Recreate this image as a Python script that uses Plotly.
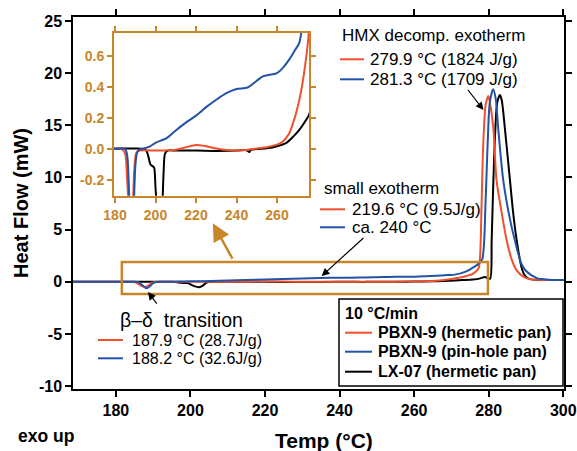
import plotly.graph_objects as go

# ---- DSC traces: temperature (°C) and heat flow (mW) ----
pbxn9_hermetic_T = [168.5, 180, 183.5, 185, 186, 187, 187.9, 188.8, 189.6, 190.5, 192, 200, 205, 210,
                    215, 220, 225, 230, 235, 240, 245, 250, 255, 260, 263, 266, 268, 270, 272, 274,
                    275.5, 276.5, 277.3, 277.7, 278.0, 278.3, 278.7, 279.2, 279.9, 280.5, 281.3,
                    282.1, 283.5, 284.8, 286.2, 287.5, 289.3, 291, 294, 300.2]
pbxn9_hermetic_Q = [0, 0, 0, -0.03, -0.2, -0.42, -0.5, -0.35, -0.12, -0.025, -0.01, -0.01, -0.009,
                    -0.005, 0.012, 0.026, 0.018, 0.003, -0.007, -0.009, -0.006, 0.004, 0.012, 0.028,
                    0.05, 0.1, 0.17, 0.26, 0.38, 0.55, 0.72, 0.95, 1.3, 2.5, 6, 10.5, 14.5, 17,
                    17.8, 16.8, 14.5, 9.75, 6.6, 4.0, 2.1, 1.1, 0.5, 0.25, 0.18, 0.17]

pbxn9_pinhole_T = [168.5, 180, 185, 186, 187, 188.2, 189.2, 190.1, 191, 192.5, 194, 197, 200, 205.5,
                   210, 215, 220, 225, 230, 235, 240, 245.5, 250, 253, 257, 260, 263, 266, 269, 271,
                   274, 276, 277.5, 278.3, 278.8, 279.1, 279.4, 279.8, 280.3, 281.2, 281.9, 282.6,
                   283.9, 285.7, 287, 288.8, 290.1, 292.9, 296, 300.2]
pbxn9_pinhole_Q = [0, 0, 0, -0.04, -0.3, -0.63, -0.4, -0.1, -0.02, 0.0, 0.003, 0.015, 0.04, 0.07,
                   0.12, 0.17, 0.215, 0.27, 0.318, 0.36, 0.387, 0.397, 0.44, 0.468, 0.48, 0.49,
                   0.525, 0.576, 0.64, 0.684, 1.0, 1.4, 1.8, 2.2, 4, 7, 10, 14, 17.2, 18.45, 17.5,
                   14.5, 9.75, 6, 4, 1.7, 1.0, 0.35, 0.2, 0.18]

lx07_T = [168.5, 180, 190, 194, 195.5, 196.5, 197.5, 198.5, 199.3, 200.0, 201.0, 202.3, 203.3,
          204.0, 204.7, 206, 210, 220, 230, 240, 245, 246.3, 247, 250, 255, 260, 264.6, 268, 271,
          273, 275.8, 277.5, 279, 279.8, 280.4, 280.8, 281.2, 281.7, 282.3, 283, 283.5, 284.4,
          285.7, 286.6, 287.5, 288.8, 289.7, 291, 295, 300.2]
lx07_Q = [0.0, 0.003, 0.003, 0.0, -0.01, -0.05, -0.1, -0.11, -0.12, -0.25, -0.42, -0.52, -0.38,
          -0.15, -0.03, -0.01, -0.01, -0.01, -0.012, -0.01, -0.008, -0.02, -0.005, 0.0, 0.005,
          0.018, 0.04, 0.08, 0.124, 0.16, 0.22, 0.3, 0.45, 0.35, 0.3, 4, 9, 14, 17.2, 17.9, 17.4,
          14.5, 9.75, 6.5, 4, 1.4, 0.6, 0.25, 0.18, 0.17]

# ---- axis ticks ----
main_x_ticks = [180, 200, 220, 240, 260, 280, 300]
main_y_ticks = [-10, -5, 0, 5, 10, 15, 20, 25]
main_y_labels = ["-10", "-5", "0", "5", "10", "15", "20", "25"]
inset_x_ticks = [180, 200, 220, 240, 260]
inset_y_ticks = [-0.2, 0.0, 0.2, 0.4, 0.6]
inset_y_labels = ["-0.2", "0.0", "0.2", "0.4", "0.6"]

# ---- legend / annotation texts ----
series_names = ["PBXN-9 (hermetic pan)", "PBXN-9 (pin-hole pan)", "LX-07 (hermetic pan)"]
decomp_labels = ["279.9 °C (1824 J/g)", "281.3 °C (1709 J/g)"]
small_exo_labels = ["219.6 °C (9.5J/g)", "ca. 240 °C"]
transition_labels = ["187.9 °C (28.7J/g)", "188.2 °C (32.6J/g)"]

RED = "#F0502D"
BLUE = "#2452A6"
BLACK = "#000000"
ORANGE = "#C8862A"
FONT = "Liberation Sans, Arial, sans-serif"

W, H = 577, 451
ML, MR, MT, MB = 73, 13, 17, 62
PW, PH = W - ML - MR, H - MT - MB


def px(x):
    return (x - ML) / PW


def py(y):
    return (H - MB - y) / PH


fig = go.Figure()

curves = [
    (lx07_T, lx07_Q, BLACK, series_names[2]),
    (pbxn9_hermetic_T, pbxn9_hermetic_Q, RED, series_names[0]),
    (pbxn9_pinhole_T, pbxn9_pinhole_Q, BLUE, series_names[1]),
]
for xa, ya in (("x", "y"), ("x2", "y2")):
    for T, Q, col, name in curves:
        fig.add_trace(go.Scatter(
            x=T, y=Q, mode="lines", name=name, showlegend=False,
            line=dict(color=col, width=2, shape="spline", smoothing=0.8),
            xaxis=xa, yaxis=ya, hoverinfo="skip"))

axis_common = dict(showline=True, mirror="ticks", ticks="outside", showgrid=False,
                   zeroline=False, automargin=False)

fig.update_layout(
    width=W, height=H,
    margin=dict(l=ML, r=MR, t=MT, b=MB, autoexpand=False),
    paper_bgcolor="white", plot_bgcolor="white",
    font=dict(family=FONT, color="black"),
    showlegend=False,
    xaxis=dict(domain=[0, 1], range=[168.5, 300.2], tickvals=main_x_ticks,
               linecolor="black", linewidth=1.5, tickcolor="black", ticklen=6, tickwidth=1.5,
               tickfont=dict(size=16, weight="bold", color="black"), **axis_common),
    yaxis=dict(domain=[0, 1], range=[-10.28, 25.38], tickvals=main_y_ticks, ticktext=main_y_labels,
               linecolor="black", linewidth=1.5, tickcolor="black", ticklen=6, tickwidth=1.5,
               tickfont=dict(size=16, weight="bold", color="black"), **axis_common),
    xaxis2=dict(domain=[px(114), px(309)], anchor="y2", range=[179.5, 275.8],
                tickvals=inset_x_ticks, linecolor=ORANGE, linewidth=2, tickcolor=ORANGE,
                ticklen=5, tickwidth=2,
                tickfont=dict(size=14, weight="bold", color=ORANGE), **axis_common),
    yaxis2=dict(domain=[py(195.7), py(32.7)], anchor="x2", range=[-0.301, 0.75],
                tickvals=inset_y_ticks, ticktext=inset_y_labels, linecolor=ORANGE, linewidth=2,
                tickcolor=ORANGE, ticklen=5, tickwidth=2,
                tickfont=dict(size=14, weight="bold", color=ORANGE), **axis_common),
)

shapes = []
annotations = []

# zoom box around the baseline region shown in the inset
shapes.append(dict(type="rect", xref="x", yref="y", x0=181.6, x1=279.8, y0=-1.18, y1=1.89,
                   line=dict(color=ORANGE, width=2.5), layer="above"))
annotations.append(dict(xref="x", yref="y", axref="x", ayref="y", x=206.0, y=5.6, ax=211.5, ay=2.07,
                        text="", showarrow=True, arrowhead=2, arrowsize=1.4, arrowwidth=2.5,
                        arrowcolor=ORANGE, standoff=0))


def label(x, y, text, size=17, bold=False, anchor="left"):
    annotations.append(dict(xref="paper", yref="paper", x=px(x), y=py(y), xanchor=anchor,
                            yanchor="middle", showarrow=False,
                            text=f"<b>{text}</b>" if bold else text,
                            font=dict(size=size, color="black", family=FONT)))


def key_line(x0, x1, y, color):
    shapes.append(dict(type="line", xref="paper", yref="paper", x0=px(x0), x1=px(x1),
                       y0=py(y), y1=py(y), line=dict(color=color, width=2)))


def pointer(tx, ty, hx, hy):
    annotations.append(dict(xref="x", yref="y", axref="x", ayref="y", x=hx, y=hy, ax=tx, ay=ty,
                            text="", showarrow=True, arrowhead=2, arrowsize=1.3, arrowwidth=1.2,
                            arrowcolor="black", standoff=0))


# HMX decomposition exotherm
label(340, 36, "HMX decomp. exotherm")
key_line(340, 364, 59.3, RED)
label(368, 59.3, decomp_labels[0])
key_line(340, 364, 79.3, BLUE)
label(368, 79.3, decomp_labels[1])
pointer(274.1, 18.55, 278.6, 16.47)

# small exotherm
label(322, 188.3, "small exotherm")
key_line(320, 345, 209.3, RED)
label(350, 209.3, small_exo_labels[0])
key_line(320, 345, 227.3, BLUE)
label(350, 227.3, small_exo_labels[1])
pointer(246.8, 4.32, 235.2, 0.55)

# beta-delta phase transition
label(118, 320, "β–δ  transition", size=19.5)
key_line(98, 123, 340, RED)
label(130, 340, transition_labels[0], size=16)
key_line(98, 123, 358.3, BLUE)
label(130, 358.3, transition_labels[1], size=16)
pointer(191.3, -2.23, 188.6, -0.99)

# legend box
shapes.append(dict(type="rect", xref="paper", yref="paper", x0=px(339), x1=px(563),
                   y0=py(386), y1=py(299), fillcolor="white", line=dict(color="black", width=1.5),
                   layer="above"))
label(343, 313.3, "10 °C/min", size=16, bold=True)
for yy, col, name in zip([332.7, 351.7, 371.7], [RED, BLUE, BLACK], series_names):
    key_line(345, 372, yy, col)
    label(376, yy, name, size=16, bold=True)

# axis titles and note
annotations.append(dict(xref="paper", yref="paper", x=px(21), y=py(203), xanchor="center",
                        yanchor="middle", showarrow=False, textangle=-90,
                        text="<b>Heat Flow (mW)</b>", font=dict(size=20, family=FONT)))
annotations.append(dict(xref="paper", yref="paper", x=px(324), y=py(440), xanchor="center",
                        yanchor="middle", showarrow=False,
                        text="<b>Temp (°C)</b>", font=dict(size=21, family=FONT)))
label(16, 436, "exo up", size=17.5, bold=True)

fig.update_layout(shapes=shapes, annotations=annotations)

fig.write_html("out.html")
